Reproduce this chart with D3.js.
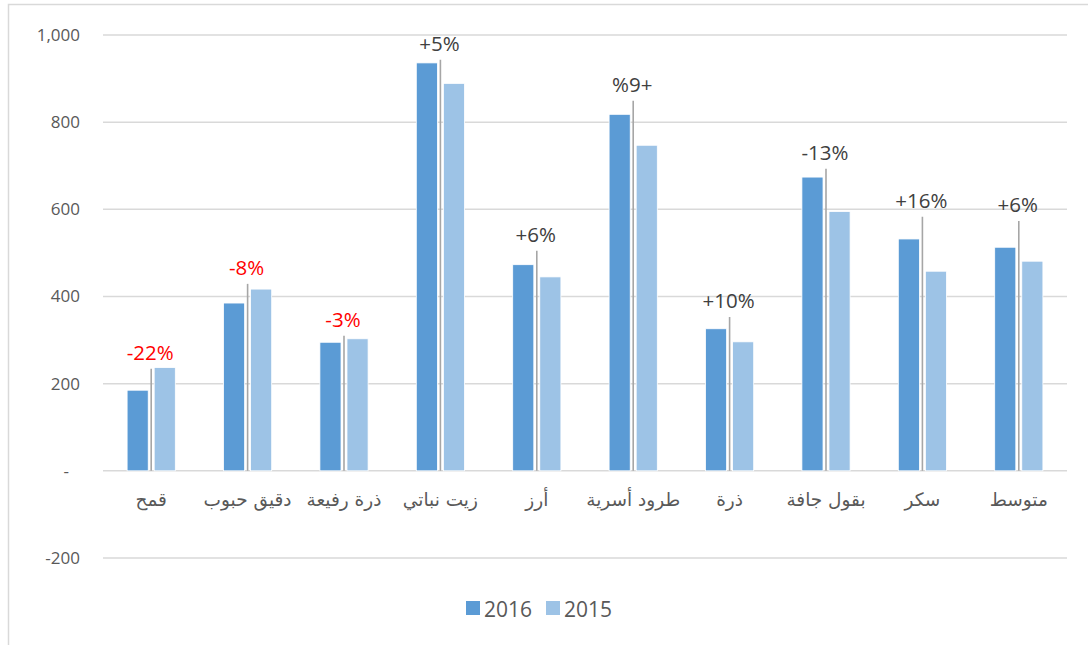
<!DOCTYPE html>
<html><head><meta charset="utf-8">
<script src="https://cdn.jsdelivr.net/npm/d3@7"></script>
<style>
body{margin:0;background:#fff;}
svg{display:block;font-family:"Liberation Sans","DejaVu Sans",Arial,sans-serif;}
</style></head>
<body><svg id="c" width="1088" height="645"></svg>
<script>
const categories = ["قمح","دقيق حبوب","ذرة رفيعة","زيت نباتي","أرز","طرود أسرية","ذرة","بقول جافة","سكر","متوسط"];
const series = ["2016","2015"];
const values2016 = [185,385,295,936,473,818,326,674,532,513];
const values2015 = [237,417,303,889,445,747,296,595,458,481];
const changeLabels = ["-22%","-8%","-3%","+5%","+6%","%9+","+10%","-13%","+16%","+6%"];
const labelAt = [234,429,310,943,505,849,353,693,583,573];
const labelNegative = [true,true,true,false,false,false,false,false,false,false];
const yTicks = [-200,0,200,400,600,800,1000];
const colors = {"2016":"#5B9BD5","2015":"#9DC3E6"};

const svg = d3.select("#c");
// outer frame
svg.append("rect").attr("x",8.5).attr("y",4.5).attr("width",1090).attr("height",700)
  .attr("fill","none").attr("stroke","#d9d9d9").attr("stroke-width",1.5);

const x = d3.scaleBand().domain(categories).range([103,1067]).paddingInner(0.5).paddingOuter(0.25);
const x1 = d3.scaleBand().domain(series).range([0,x.bandwidth()]).paddingInner(0.22);
const y = d3.scaleLinear().domain([-200,1000]).range([558,35]);
const fmt = v => v===0 ? "-" : (v<0 ? "-" + d3.format(",")(-v) : d3.format(",")(v));

// gridlines
svg.append("g").selectAll("line").data(yTicks).join("line")
  .attr("x1",103).attr("x2",1067).attr("y1",d=>y(d)).attr("y2",d=>y(d))
  .attr("stroke","#d9d9d9").attr("stroke-width",1.5);

// y axis labels
const yAxis = d3.axisLeft(y).tickValues(yTicks).tickFormat(fmt).tickSize(0).tickPadding(0);
const gy = svg.append("g").attr("transform","translate(80,0)").call(yAxis);
gy.select(".domain").remove();
gy.selectAll("text").attr("font-size",17).attr("fill","#595959")
  .attr("font-family","'Open Sans','Liberation Sans',sans-serif")
  .attr("dx",d=>d===0?-11:0);

// bars
const rows = categories.map((c,i)=>({c, v:{"2016":values2016[i],"2015":values2015[i]}}));
const groups = svg.append("g").selectAll("g").data(rows).join("g")
  .attr("transform",d=>`translate(${x(d.c)},0)`);
groups.selectAll("rect").data(d=>series.map(s=>({s,v:d.v[s]}))).join("rect")
  .attr("x",d=>x1(d.s)).attr("width",x1.bandwidth())
  .attr("y",d=>y(d.v)).attr("height",d=>y(0)-y(d.v))
  .attr("fill",d=>colors[d.s]).attr("stroke","#fff").attr("stroke-width",0.8);

// leader lines
svg.append("g").selectAll("line").data(categories).join("line")
  .attr("x1",d=>x(d)+x.bandwidth()/2).attr("x2",d=>x(d)+x.bandwidth()/2)
  .attr("y1",(d,i)=>y(labelAt[i])).attr("y2",y(0))
  .attr("stroke","#a6a6a6").attr("stroke-width",1.6);

// change labels
svg.append("g").selectAll("text").data(categories).join("text")
  .attr("x",d=>x(d)+x.bandwidth()/2-1).attr("y",(d,i)=>y(labelAt[i])-9)
  .attr("text-anchor","middle").attr("direction","ltr").attr("unicode-bidi","bidi-override")
  .attr("font-size",20.5).attr("font-family","'Open Sans','Liberation Sans',sans-serif")
  .attr("fill",(d,i)=>labelNegative[i]?"#ff0000":"#404040")
  .text((d,i)=>changeLabels[i]);

// category axis labels
const xAxis = d3.axisBottom(x).tickSize(0).tickPadding(0);
const gx = svg.append("g").attr("transform",`translate(0,${y(0)+35})`).call(xAxis);
gx.select(".domain").remove();
gx.selectAll("text").attr("font-size",18.5).attr("fill","#595959").attr("dy",0)
  .attr("font-family","'DejaVu Sans',sans-serif");

// legend
const legend = svg.append("g").attr("transform","translate(466,601)");
const items = legend.selectAll("g").data(series).join("g")
  .attr("transform",(d,i)=>`translate(${i*80},0)`);
items.append("rect").attr("width",14).attr("height",14).attr("fill",d=>colors[d]);
items.append("text").attr("x",18).attr("y",15.5).attr("font-size",21)
  .attr("fill","#595959").attr("font-family","'Open Sans','Liberation Sans',sans-serif").text(d=>d);
</script></body></html>
